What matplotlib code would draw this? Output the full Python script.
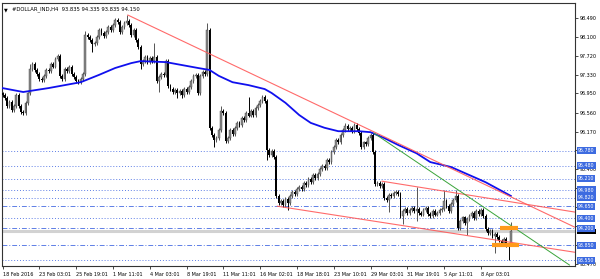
import numpy as np
import matplotlib
matplotlib.use("Agg")
import matplotlib.pyplot as plt
import matplotlib.transforms as mtransforms

# H4 closes, one per bar
closes = [
    96.92, 96.85, 96.70, 96.78, 96.62, 96.70, 96.92, 96.70, 96.58, 96.55,
    96.75, 96.95, 97.45, 97.55, 97.42, 97.35, 97.25, 97.22, 97.30, 97.42,
    97.40, 97.55, 97.50, 97.65, 97.72, 97.30, 97.25, 97.45, 97.40, 97.50,
    97.35, 97.28, 97.20, 97.18, 97.25, 97.35, 98.15, 98.10, 98.05, 97.95,
    97.98, 98.10, 98.25, 98.18, 98.12, 98.20, 98.30, 98.25, 98.35, 98.45,
    98.40, 98.20, 98.30, 98.38, 98.42, 98.35, 98.15, 98.25, 98.05, 97.90,
    97.55, 97.62, 97.70, 97.60, 97.68, 97.62, 97.70, 97.20, 97.28, 97.35,
    97.32, 97.62, 97.10, 97.05, 96.98, 97.02, 96.95, 97.00, 96.92, 97.05,
    96.98, 97.08, 97.20, 97.30, 97.32, 96.95, 97.30, 97.38, 97.35, 98.25,
    96.25, 96.10, 96.00, 96.05, 96.20, 96.60, 96.55, 95.98, 96.05, 96.20,
    96.12, 96.25, 96.35, 96.30, 96.45, 96.40, 96.55, 96.50, 96.60, 96.52,
    96.65, 96.72, 96.80, 96.88, 96.80, 95.80, 95.70, 95.78, 95.65, 94.85,
    94.72, 94.75, 94.68, 94.80, 94.72, 94.85, 94.95, 94.90, 95.00, 95.05,
    95.00, 95.12, 95.08, 95.20, 95.15, 95.28, 95.22, 95.30, 95.40, 95.48,
    95.42, 95.60, 95.55, 95.75, 95.85, 96.00, 95.95, 96.10, 96.20, 96.28,
    96.22, 96.25, 96.18, 96.30, 96.22, 96.15, 95.85, 95.95, 95.92, 96.05,
    96.10, 95.75, 95.10, 95.12, 95.06, 95.10, 94.82, 94.78, 94.88, 94.85,
    94.92, 94.95, 94.90, 94.45, 94.55, 94.60, 94.52, 94.58, 94.62, 94.55,
    94.60, 94.52, 94.48, 94.58, 94.62, 94.50, 94.45, 94.55, 94.48, 94.52,
    94.58, 94.60, 94.75, 94.65, 94.55, 94.70, 94.78, 94.85, 94.20, 94.35,
    94.42, 94.30, 94.38, 94.45, 94.52, 94.40, 94.55, 94.50, 94.58, 94.45,
    94.18, 94.10, 94.15, 94.05, 94.08, 94.02, 93.95, 93.90, 93.98, 93.85,
    93.835, 94.15,
]
first_open = 96.95

# notable wicks (bar index -> price)
spike_highs = {12: 97.55, 36: 98.22, 49: 98.50, 54: 98.55, 66: 97.98, 89: 98.39,
               95: 96.70, 107: 96.88, 149: 96.35, 153: 96.35, 171: 94.98,
               180: 95.04, 192: 94.98, 197: 94.98, 221: 94.335}
spike_lows = {39: 97.80, 60: 97.45, 68: 96.98, 76: 96.86, 78: 96.86, 85: 96.92,
              92: 95.86, 115: 95.60, 124: 94.57, 168: 94.53, 174: 94.28,
              180: 94.35, 202: 94.06, 214: 93.70, 220: 93.55, 221: 93.835}
wick = 0.04

# blue moving average, read at points (bar, price)
ma_bar = [0, 9, 20, 34, 42, 49, 56, 60, 71, 78, 85, 90, 94, 100, 107, 114, 117,
          123, 129, 134, 140, 146, 155, 160, 166, 172, 180, 186, 195, 210, 221]
ma_val = [97.06, 96.98, 97.06, 97.18, 97.33, 97.47, 97.57, 97.61, 97.59, 97.53,
          97.47, 97.43, 97.31, 97.18, 97.12, 97.04, 96.96, 96.76, 96.51, 96.35,
          96.25, 96.18, 96.18, 96.16, 96.04, 95.90, 95.73, 95.55, 95.45, 95.14,
          94.86]

# trend lines: (bar0, price0, bar1, price1)
red_lines = [(54.5, 98.55, 248.9, 94.22),
             (165.0, 95.16, 248.9, 94.53),
             (119.5, 94.65, 248.9, 93.71)]
green_line = (161.5, 96.14, 246.5, 93.45)

# horizontal levels
levels = [95.78, 95.48, 95.21, 94.98, 94.82, 94.65, 94.40, 94.20, 93.85, 93.55]
level_dash = [94.65, 94.20, 93.85]
bid = 94.15

orange_marks = [(216.5, 224.0, 94.20), (213.0, 224.5, 93.85)]

yticks = [98.49, 98.10, 97.72, 97.33, 96.95, 96.56, 96.17, 95.79, 95.40,
          95.02, 94.63, 94.25, 93.86, 93.47]
# tick labels that sit under a level box are not visible
hidden_ticks = [95.79, 95.02, 94.63, 94.25, 93.86]
date_labels = ["18 Feb 2016", "23 Feb 03:01", "25 Feb 19:01", "1 Mar 11:01",
               "4 Mar 03:01", "8 Mar 19:01", "11 Mar 11:01", "16 Mar 02:01",
               "18 Mar 18:01", "23 Mar 10:01", "29 Mar 03:01", "31 Mar 19:01",
               "5 Apr 11:01", "8 Apr 03:01"]

W, H = 600, 279
fig = plt.figure(figsize=(W / 100, H / 100), dpi=100)
ax = fig.add_axes([2 / W, 1 - 266 / H, 573 / W, 263 / H])
ax.set_xlim(-0.22, 248.9)
ax.set_ylim(93.43, 98.796)

n = len(closes)
idx = np.arange(n)
c = np.array(closes)
o = np.concatenate([[first_open], c[:-1]])
hi = np.maximum(o, c) + wick
lo = np.minimum(o, c) - wick
for k, v in spike_highs.items():
    hi[k] = v
for k, v in spike_lows.items():
    lo[k] = v
up = c >= o

ax.vlines(idx[up], lo[up], hi[up], color="#555555", lw=0.7, zorder=3)
ax.vlines(idx[~up], lo[~up], hi[~up], color="black", lw=0.7, zorder=3)
body = np.maximum(np.abs(c - o), 0.015)
ax.bar(idx[up], body[up], bottom=np.minimum(o, c)[up], width=0.72,
       color="#8a8a8a", edgecolor="#404040", lw=0.3, zorder=4)
ax.bar(idx[~up], body[~up], bottom=np.minimum(o, c)[~up], width=0.72,
       color="black", lw=0, zorder=4)

# levels
for lv in levels:
    if lv in level_dash:
        ax.axhline(lv, color="#5f7fe6", lw=0.7, ls=(0, (5, 2, 1, 2)), zorder=1)
    else:
        ax.axhline(lv, color="#5f7fe6", lw=0.7, ls=(0, (1, 2)), zorder=1)
ax.axhline(bid, color="#d2d2d2", lw=2.2, zorder=0.5)

ax.plot(ma_bar, ma_val, color="#1010ee", lw=1.3, zorder=5)
for b0, p0, b1, p1 in red_lines:
    ax.plot([b0, b1], [p0, p1], color="#ff5a5a", lw=0.8, alpha=0.9, zorder=6)
ax.plot([green_line[0], green_line[2]], [green_line[1], green_line[3]],
        color="#3aa43a", lw=0.7, zorder=6)
for b0, b1, p in orange_marks:
    ax.plot([b0, b1], [p, p], color="#ff9a1a", lw=3, solid_capstyle="butt", zorder=7)

# axes look
for s in ax.spines.values():
    s.set_linewidth(0.8)
    s.set_color("#333333")
ax.yaxis.tick_right()
ax.set_yticks(yticks)
ax.set_yticklabels(["" if v in hidden_ticks else f"{v:.3f}" for v in yticks])
ax.tick_params(axis="y", length=2, width=0.5, pad=1.5, labelsize=3.5)
ax.set_xticks(np.arange(len(date_labels)) * 16)
ax.set_xticklabels(date_labels)
ax.tick_params(axis="x", length=2.5, width=0.5, pad=1.5, labelsize=3.5)
for t in ax.get_xticklabels():
    t.set_ha("left")

# price boxes on the right axis
tr = mtransforms.blended_transform_factory(ax.transAxes, ax.transData)
# bid box mostly hidden behind the 94.200 box
ax.add_patch(plt.Rectangle((1.004, bid - 0.075), 0.033, 0.12, transform=tr,
                           fc="black", ec="none", clip_on=False, zorder=10))
for lv in levels:
    ax.text(1.005, lv, f"{lv:.3f}", transform=tr, fontsize=3.4, color="white",
            va="center", ha="left", clip_on=False, zorder=11,
            bbox=dict(boxstyle="square,pad=0.22", fc="#3d6be0", ec="none"))

ax.text(0.004, 0.985, "\u25bc", transform=ax.transAxes, fontsize=3.5,
        va="top", ha="left")
ax.text(0.018, 0.988, "#DOLLAR_IND,H4  93.835 94.335 93.835 94.150",
        transform=ax.transAxes, fontsize=3.8, va="top", ha="left")

fig.savefig("out.png", dpi=100, facecolor="white")
